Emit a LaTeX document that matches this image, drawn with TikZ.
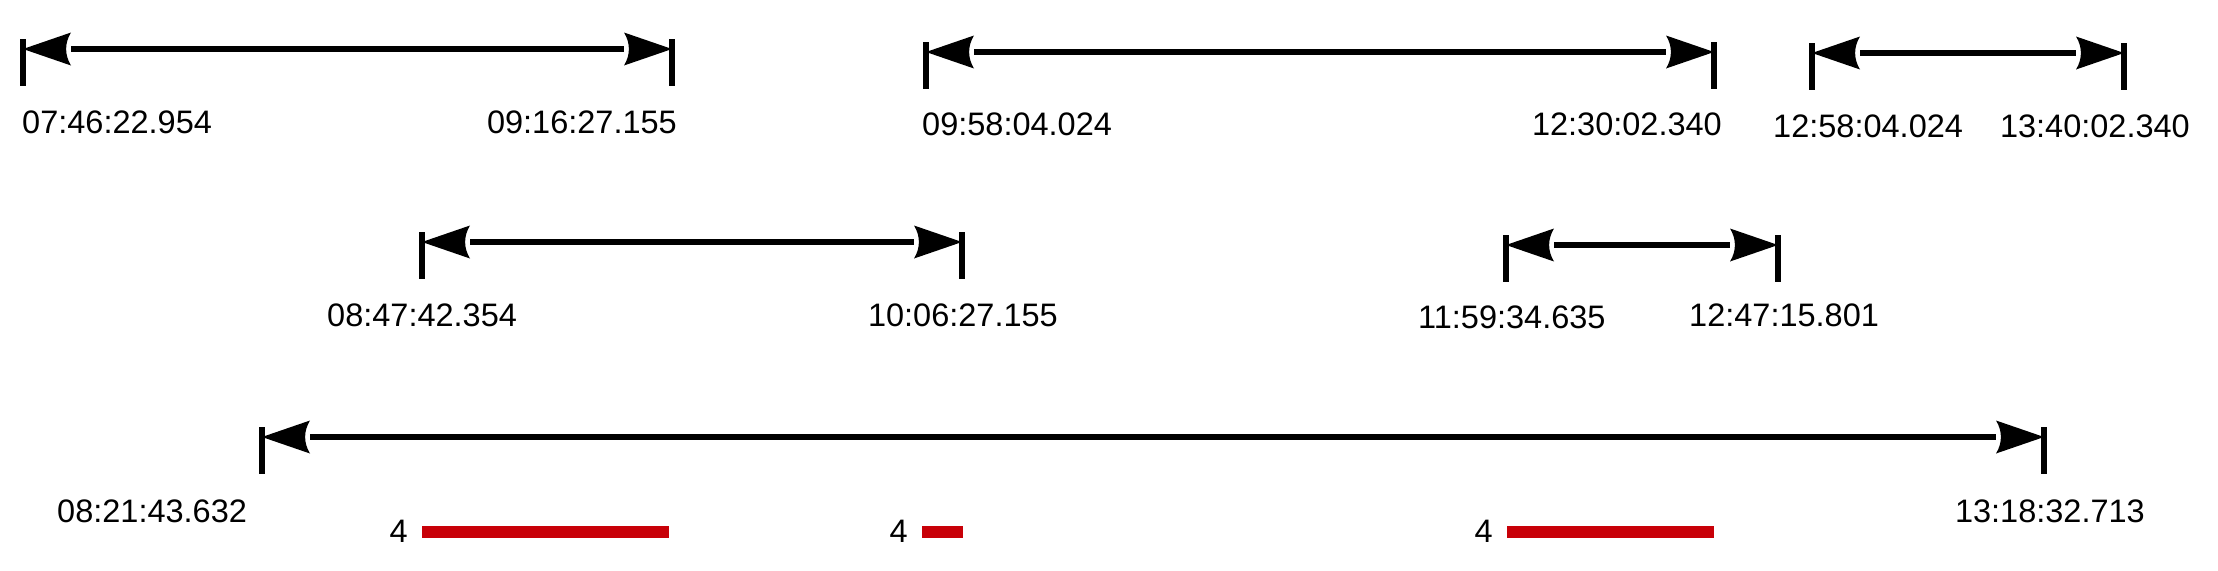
\documentclass[tikz,border=0pt]{standalone}
\usepackage{fontspec}
\setmainfont{Liberation Sans}
\usetikzlibrary{arrows.meta}
\definecolor{barred}{RGB}{200,0,8}
\pgfdeclarearrow{
  name=CurvedBack,
  parameters={},
  setup code={
    \pgfarrowssettipend{0pt}
    \pgfarrowssetlineend{-48pt}
    \pgfarrowssetbackend{-48pt}
    \pgfarrowshullpoint{0pt}{0pt}
    \pgfarrowshullpoint{-48pt}{16.5pt}
    \pgfarrowshullpoint{-48pt}{-16.5pt}
  },
  drawing code={
    \pgfpathmoveto{\pgfpoint{0pt}{0pt}}
    \pgfpathlineto{\pgfpoint{-48pt}{16.5pt}}
    \pgfpathcurveto{\pgfpoint{-41.5pt}{6pt}}{\pgfpoint{-41.5pt}{-6pt}}{\pgfpoint{-48pt}{-16.5pt}}
    \pgfpathclose
    \pgfusepathqfill
  },
}
\tikzset{
  dimline/.style={line width=5.5pt,{CurvedBack[]}-{CurvedBack[]}},
  tickline/.style={line width=5.5pt},
  lbl/.style={inner sep=0pt,font=\fontsize{32.5}{39}\selectfont},
  redbar/.style={line width=12pt,color=barred},
}
\begin{document}
\begin{tikzpicture}[x=1pt,y=-1pt]
\useasboundingbox (0,0) rectangle (2218,570);
% coordinates of interval ends
\coordinate (aL) at (23,49);   \coordinate (aR) at (672,49);
\coordinate (bL) at (926,52);  \coordinate (bR) at (1714,52);
\coordinate (cL) at (1812,53); \coordinate (cR) at (2124,53);
\coordinate (dL) at (422,242); \coordinate (dR) at (962,242);
\coordinate (eL) at (1506,245);\coordinate (eR) at (1778,245);
\coordinate (fL) at (262,437); \coordinate (fR) at (2044,437);
% ticks
\foreach \p in {aL,aR,bL,bR,cL,cR,dL,dR,eL,eR,fL,fR}
  \draw[tickline] (\p) ++(0,-10) -- ++(0,47);
% dimension arrows
\draw[dimline] (aL) -- (aR);
\draw[dimline] (bL) -- (bR);
\draw[dimline] (cL) -- (cR);
\draw[dimline] (dL) -- (dR);
\draw[dimline] (eL) -- (eR);
\draw[dimline] (fL) -- (fR);
% labels
\node[lbl,anchor=base west] (ta1) at (22,133) {07:46:22.954};
\node[lbl,anchor=base east] (ta2) at (677,133) {09:16:27.155};
\node[lbl,anchor=base west] (tb1) at (922,135) {09:58:04.024};
\node[lbl,anchor=base east] (tb2) at (1722,135) {12:30:02.340};
\node[lbl,anchor=base west] (tc1) at (1773,137) {12:58:04.024};
\node[lbl,anchor=base east] (tc2) at (2190,137) {13:40:02.340};
\node[lbl,anchor=base west] (td1) at (327,326) {08:47:42.354};
\node[lbl,anchor=base east] (td2) at (1058,326) {10:06:27.155};
\node[lbl,anchor=base west] (te1) at (1418,328) {11:59:34.635};
\node[lbl,anchor=base west] (te2) at (1689,326) {12:47:15.801};
\node[lbl,anchor=base west] (tf1) at (57,522) {08:21:43.632};
\node[lbl,anchor=base east] (tf2) at (2145,522) {13:18:32.713};
% overlaps
\coordinate (r1a) at (422,532); \coordinate (r1b) at (669,532);
\coordinate (r2a) at (922,532); \coordinate (r2b) at (963,532);
\coordinate (r3a) at (1507,532);\coordinate (r3b) at (1714,532);
\draw[redbar] (r1a) -- (r1b);
\draw[redbar] (r2a) -- (r2b);
\draw[redbar] (r3a) -- (r3b);
\node[lbl,anchor=base east] (n1) at ([xshift=-14pt]r1a |- 0,542) {4};
\node[lbl,anchor=base east] (n2) at ([xshift=-14pt]r2a |- 0,542) {4};
\node[lbl,anchor=base east] (n3) at ([xshift=-14pt]r3a |- 0,542) {4};
\end{tikzpicture}
\end{document}
